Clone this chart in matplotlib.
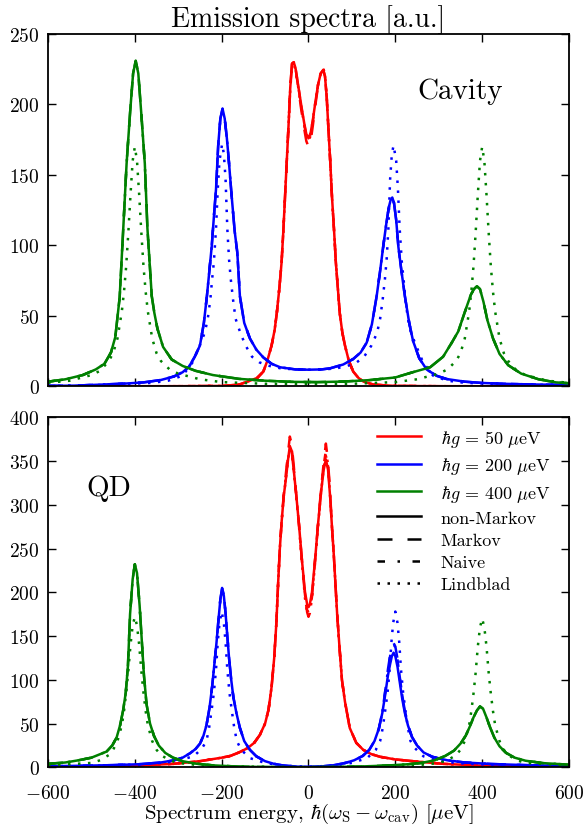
import matplotlib
matplotlib.use("Agg")
import matplotlib.pyplot as plt
from matplotlib.lines import Line2D

# ---------------------------------------------------------------- data
# Cavity spectra (top panel)
cav_g50_x = [-600, -300, -200, -160, -135, -118, -104, -95, -85, -78, -73, -67, -62, -58, -54, -50, -46, -42,
             -38, -34, -30, -24, -17, -10, -5, 0, 5, 10, 16, 22, 28, 34, 38, 42, 46, 50, 54, 59, 63, 68, 72,
             78, 84, 93, 103, 115, 126, 150, 200, 300, 600]
cav_g50_nonmarkov = [0, 0.1, 0.3, 1.2, 4, 6, 10.5, 18, 29, 40, 52, 70, 88, 110, 135, 160, 185, 212,
                     229, 230, 226, 214, 200, 187, 179, 176, 180, 189, 202, 214, 222, 224.5, 220, 205, 182, 160,
                     135, 110, 88, 68, 52, 38, 29, 18, 10.5, 6, 3.5, 1.2, 0.3, 0.1, 0]
cav_g50_markov = [0, 0.1, 0.3, 1.2, 4, 6, 10.5, 18, 29, 40, 52, 70, 88, 110, 135, 160, 185, 212,
                  229, 230, 226, 213, 197, 183, 174, 170, 174, 185, 200, 213, 222, 224.5, 220, 205, 182, 160,
                  135, 110, 88, 68, 52, 38, 29, 18, 10.5, 6, 3.5, 1.2, 0.3, 0.1, 0]
cav_g50_naive = [0, 0.1, 0.3, 1.2, 4, 6, 10.5, 18, 29, 40, 52, 70, 88, 110, 135, 160, 185, 212,
                 229, 230, 226, 214, 199, 186, 178, 174, 178, 188, 201, 214, 222, 224.5, 220, 205, 182, 160,
                 135, 110, 88, 68, 52, 38, 29, 18, 10.5, 6, 3.5, 1.2, 0.3, 0.1, 0]
cav_g50_lindblad = [0, 0.1, 0.3, 1.2, 4, 6, 10.5, 18, 29, 40, 52, 70, 88, 110, 135, 160, 185, 211,
                    227, 228, 225, 213, 199, 186, 178, 175, 179, 189, 202, 214, 222, 226, 221, 205, 182, 160,
                    135, 110, 88, 68, 52, 38, 29, 18, 10.5, 6, 3.5, 1.2, 0.3, 0.1, 0]

cav_g200_x = [-600, -540, -480, -420, -380, -340, -310, -290, -275, -262, -250, -241, -234, -228, -223, -218,
              -213, -208, -203, -198, -193, -188, -184, -177, -170, -164, -158, -148, -135, -120, -104, -85,
              -65, -30, 0, 30, 50, 80, 103, 120, 134, 146, 157, 165, 172, 179, 185, 189, 193, 197, 202, 207,
              214, 222, 232, 241, 255, 272, 295, 318, 360, 400, 450, 520, 600]
cav_g200_nonmarkov = [0.3, 0.5, 1.2, 2, 2.8, 4.5, 7, 10, 14, 21, 29, 45, 64, 83, 99, 120, 140, 171, 190, 197,
                      190, 176, 162, 135, 110, 95, 64, 45, 34, 26, 20.5, 16, 13.5, 12, 11.8, 12, 12.8, 15.5,
                      19.4, 24, 31, 44, 64, 82, 99, 115, 127, 132, 134, 130, 118, 99, 82, 64, 45, 32, 20, 12,
                      7.5, 5.2, 3.3, 2.4, 1.8, 1.3, 1]
cav_g200_lind_x = [-600, -500, -420, -360, -323, -290, -267, -252, -239, -232, -226, -222, -218, -213, -209,
                   -205, -199, -195, -191, -187, -183, -179, -174, -168, -157, -145, -130, -113, -90, -60, 0,
                   60, 90, 111, 128, 145, 158, 165, 171, 176, 180, 184, 188, 192, 196, 202, 206, 210, 215, 219,
                   223, 229, 236, 249, 264, 287, 320, 360, 420, 500, 600]
cav_g200_lindblad = [0.3, 0.8, 1.6, 2.5, 4, 7.6, 17, 28, 38, 48, 62, 76, 88, 112, 140, 160, 172, 165, 147,
                     112, 90, 76, 62, 48, 38, 29, 21, 17, 14.5, 12.5, 11.8, 12.5, 14.5, 17, 21, 29, 38, 48, 62,
                     76, 90, 112, 147, 165, 171, 160, 140, 112, 88, 76, 62, 48, 38, 28, 17, 7.6, 4, 2.5, 1.8,
                     1.2, 0.8]

cav_g400_x = [-600, -560, -520, -490, -470, -455, -445, -435, -427, -419, -411, -404, -398, -392, -385, -377,
              -371, -361, -355, -348, -335, -315, -290, -260, -220, -160, -100, -40, 20, 80, 140, 200, 240,
              280, 310, 330, 345, 357, 366, 374, 381, 388, 395, 403, 412, 425, 440, 460, 490, 530, 570, 600]
cav_g400_nonmarkov = [3.3, 5, 8, 12, 16, 24, 35, 63, 110, 158, 194, 222, 231, 222, 193, 158, 112, 64, 52, 41,
                      28, 19, 14.5, 11, 8, 5.3, 4, 3.2, 3, 3.4, 4.4, 6.3, 10, 13.5, 21, 31, 39, 50, 58, 65,
                      69, 71, 69, 60, 47, 34, 23, 15, 9, 5, 2.8, 2.2]
cav_g400_lind_x = [-600, -550, -500, -480, -460, -450, -440, -430, -425, -420, -415, -410, -405, -400, -395,
                   -390, -385, -380, -375, -370, -360, -350, -340, -320, -300, -250, -200, -100, 0, 100, 200,
                   250, 300, 320, 340, 350, 360, 370, 375, 380, 385, 390, 395, 400, 405, 410, 415, 420, 425,
                   430, 440, 450, 460, 480, 500, 550, 600]
cav_g400_lindblad = [2.5, 4, 8, 11, 18, 23.5, 34, 53, 67, 85, 109, 136, 160, 170, 160, 136, 109, 85, 67, 53,
                     34, 23.5, 18, 12, 9, 5, 3, 1.8, 1.5, 1.8, 3, 5, 9, 12, 18, 23.5, 34, 53, 67, 85, 109,
                     136, 160, 170, 160, 136, 109, 85, 67, 53, 34, 23.5, 18, 11, 8, 4, 2.5]

# QD spectra (bottom panel)
qd_g50_x = [-600, -500, -400, -310, -250, -200, -180, -160, -140, -125, -112, -100, -92, -85, -79, -74, -70,
            -66, -62, -57, -52, -47, -43, -39, -34, -28, -22, -15, -8, -3, 0, 3, 8, 15, 22, 29, 35, 40, 45,
            50, 54, 58, 62, 66, 71, 77, 84, 95, 110, 126, 145, 165, 200, 250, 310, 400, 500, 600]
qd_g50_nonmarkov = [0.5, 1, 1.8, 4, 7, 11, 13, 17, 22, 28, 37, 50, 66, 92, 125, 165, 210, 250, 280, 310, 330,
                    352, 367, 362, 340, 310, 278, 236, 200, 186, 183, 186, 200, 236, 278, 315, 340, 352, 340,
                    308, 275, 245, 210, 175, 140, 100, 75, 45, 28, 20, 15, 12, 9, 6.5, 4, 1.8, 1, 0.5]
qd_g50_markov = [0.5, 1, 1.8, 4, 7, 11, 13, 17, 22, 28, 37, 50, 66, 92, 125, 165, 210, 250, 280, 312, 336,
                 360, 378, 370, 345, 310, 278, 236, 195, 177, 172, 177, 195, 236, 278, 318, 348, 370, 350,
                 312, 275, 245, 210, 175, 140, 100, 75, 45, 28, 20, 15, 12, 9, 6.5, 4, 1.8, 1, 0.5]
qd_g50_naive = [0.5, 1, 1.8, 4, 7, 11, 13, 17, 22, 28, 37, 50, 66, 92, 125, 165, 210, 250, 280, 311, 333,
                356, 372, 366, 342, 310, 278, 236, 197, 180, 177, 180, 197, 236, 278, 316, 345, 362, 346,
                310, 275, 245, 210, 175, 140, 100, 75, 45, 28, 20, 15, 12, 9, 6.5, 4, 1.8, 1, 0.5]
qd_g50_lindblad = [0.5, 1, 1.8, 4, 7, 11, 13, 17, 22, 28, 37, 50, 66, 92, 125, 165, 210, 250, 280, 310, 330,
                   352, 365, 360, 338, 308, 276, 233, 193, 176, 173, 176, 193, 233, 276, 315, 342, 356, 344,
                   308, 275, 245, 210, 175, 140, 100, 75, 45, 28, 20, 15, 12, 9, 6.5, 4, 1.8, 1, 0.5]

qd_g200_x = [-600, -520, -450, -390, -340, -310, -290, -273, -260, -250, -242, -235, -228, -222, -217, -212,
             -208, -203, -199, -195, -191, -187, -183, -178, -173, -166, -158, -148, -135, -120, -100, -80,
             -60, -30, 0, 30, 60, 85, 105, 125, 140, 152, 162, 170, 177, 183, 188, 192, 196, 200, 205, 210,
             216, 222, 229, 238, 250, 265, 285, 320, 360, 420, 500, 600]
qd_g200_nonmarkov = [1.2, 1.8, 2.5, 3.5, 5.5, 8, 11, 16, 21, 27, 36, 48, 68, 92, 117, 142, 165, 192, 204, 196,
                     176, 150, 125, 100, 80, 62, 45, 30, 20, 12.5, 7, 4, 2.2, 0.8, 0.4, 1, 2.5, 5, 8, 13, 20,
                     30, 44, 62, 84, 105, 118, 127, 131, 127, 115, 98, 78, 62, 48, 35, 25, 17, 12, 8, 5.5,
                     3.8, 2.5, 1.5]
qd_g200_markov = [1.2, 1.8, 2.5, 3.5, 5.5, 8, 11, 16, 21, 27, 36, 48, 68, 92, 117, 142, 165, 192, 205, 197,
                  176, 150, 125, 100, 80, 62, 45, 30, 20, 12.5, 7, 4, 2.2, 0.8, 0.4, 1, 2.5, 5, 8, 13, 20, 30,
                  44, 63, 88, 112, 128, 138, 142, 138, 124, 104, 82, 64, 49, 35, 25, 17, 12, 8, 5.5, 3.8,
                  2.5, 1.5]
qd_g200_naive = [1.2, 1.8, 2.5, 3.5, 5.5, 8, 11, 16, 21, 27, 36, 48, 68, 92, 117, 142, 165, 192, 205, 197,
                 176, 150, 125, 100, 80, 62, 45, 30, 20, 12.5, 7, 4, 2.2, 0.8, 0.4, 1, 2.5, 5, 8, 13, 20, 30,
                 44, 63, 88, 111, 127, 137, 141, 137, 123, 103, 82, 64, 49, 35, 25, 17, 12, 8, 5.5, 3.8,
                 2.5, 1.5]
qd_g200_lind_x = [-600, -500, -420, -360, -320, -300, -280, -265, -255, -245, -235, -229, -223, -218, -213,
                  -209, -205, -200, -195, -191, -187, -182, -177, -171, -165, -155, -135, -100, -60, 0, 60,
                  100, 135, 155, 165, 171, 177, 182, 187, 191, 195, 200, 205, 209, 213, 218, 223, 229, 235,
                  245, 255, 265, 280, 300, 320, 360, 420, 500, 600]
qd_g200_lindblad = [1, 1.8, 2.8, 4.2, 6, 8, 10.5, 12.5, 17, 22, 30, 45, 66, 85, 112, 143, 165, 178, 165, 143,
                    112, 85, 66, 45, 30, 20, 10.5, 5, 2, 0.5, 2, 5, 10.5, 20, 30, 45, 66, 85, 112, 143, 165,
                    178, 165, 143, 112, 85, 66, 45, 30, 22, 17, 12.5, 10.5, 8, 6, 4.2, 2.8, 1.8, 1]

qd_g400_x = [-600, -560, -530, -500, -480, -465, -452, -442, -434, -427, -421, -416, -411, -405, -400, -395,
             -389, -384, -379, -373, -365, -356, -345, -330, -312, -290, -260, -220, -160, -100, -40, 0, 60,
             120, 180, 230, 260, 290, 315, 335, 350, 362, 372, 380, 388, 395, 402, 410, 418, 428, 440, 455,
             475, 500, 540, 600]
qd_g400_nonmarkov = [4, 5.5, 8, 11, 15, 18, 25, 34, 48, 65, 85, 115, 175, 215, 232, 222, 185, 145, 105, 72,
                     50, 36, 25, 16.5, 11, 7, 4.2, 2.2, 0.8, 0.3, 0.1, 0.1, 0.3, 0.9, 2, 3.5, 5, 8, 13, 19,
                     27, 36, 47, 57, 65, 69.5, 67, 57, 46, 34, 24, 16.5, 11, 7.5, 4.8, 3]
qd_g400_lind_x = [-600, -550, -500, -480, -460, -450, -440, -430, -425, -420, -415, -410, -405, -400, -395,
                  -390, -385, -380, -375, -370, -360, -350, -340, -320, -300, -250, -200, -100, 0, 100, 200,
                  250, 300, 320, 340, 350, 360, 370, 375, 380, 385, 390, 395, 400, 405, 410, 415, 420, 425,
                  430, 440, 450, 460, 480, 500, 550, 600]
qd_g400_lindblad = [2.5, 3.5, 5, 8, 14, 20, 30, 48, 64, 85, 110, 140, 162, 172, 162, 140, 110, 85, 64, 48, 30,
                    20, 14, 8, 5, 2.3, 1.3, 0.5, 0.3, 0.5, 1.3, 2.3, 5, 8, 14, 20, 30, 48, 64, 84, 108, 138,
                    160, 170, 160, 138, 108, 84, 64, 48, 30, 20, 14, 8, 5, 3.5, 2.5]

# Markov and naive curves sit on top of the non-Markov ones here
cav_g200_markov = cav_g200_naive = cav_g200_nonmarkov
cav_g400_markov = cav_g400_naive = cav_g400_nonmarkov
qd_g400_markov = qd_g400_naive = qd_g400_nonmarkov

coupling_labels = [r"$\hbar g\, =\, 50\ \mu$eV", r"$\hbar g\, =\, 200\ \mu$eV", r"$\hbar g\, =\, 400\ \mu$eV"]
model_labels = ["non-Markov", "Markov", "Naive", "Lindblad"]
colors = ["#ff0000", "#0000ff", "#008000"]

# ---------------------------------------------------------------- style
plt.rcParams.update({
    "font.family": "serif",
    "font.serif": ["cmr10"],
    "mathtext.fontset": "cm",
    "axes.formatter.use_mathtext": True,
    "axes.unicode_minus": True,
    "lines.dashed_pattern": [6, 6],
    "lines.dashdot_pattern": [3, 5, 1, 5],
    "lines.dotted_pattern": [1, 3],
    "lines.scale_dashes": True,
})

LW = 1.8


def draw_group(ax, color, x, nm, mk, nv, lx, lb):
    ax.plot(x, nm, color=color, ls="-", lw=LW)
    ax.plot(x, mk, color=color, ls="--", lw=LW)
    ax.plot(x, nv, color=color, ls="-.", lw=LW)
    ax.plot(lx, lb, color=color, ls=":", lw=LW)


def style_axes(ax, ymax):
    ax.set_xlim(-600, 600)
    ax.set_ylim(0, ymax)
    ax.set_xticks(range(-600, 601, 200))
    ax.set_yticks(range(0, ymax + 1, 50))
    ax.tick_params(direction="in", top=True, right=True, length=5.5, width=1.0, labelsize=14)
    ax.tick_params(axis="y", pad=6)
    ax.tick_params(axis="x", pad=12)
    for sp in ax.spines.values():
        sp.set_linewidth(1.3)


fig = plt.figure(figsize=(5.84, 8.28), dpi=100)
ax_top = fig.add_axes([0.0822, 0.5322, 0.8921, 0.4255])
ax_bot = fig.add_axes([0.0822, 0.0721, 0.8921, 0.4227])

draw_group(ax_top, colors[0], cav_g50_x, cav_g50_nonmarkov, cav_g50_markov, cav_g50_naive,
           cav_g50_x, cav_g50_lindblad)
draw_group(ax_top, colors[1], cav_g200_x, cav_g200_nonmarkov, cav_g200_markov, cav_g200_naive,
           cav_g200_lind_x, cav_g200_lindblad)
draw_group(ax_top, colors[2], cav_g400_x, cav_g400_nonmarkov, cav_g400_markov, cav_g400_naive,
           cav_g400_lind_x, cav_g400_lindblad)

draw_group(ax_bot, colors[0], qd_g50_x, qd_g50_nonmarkov, qd_g50_markov, qd_g50_naive,
           qd_g50_x, qd_g50_lindblad)
draw_group(ax_bot, colors[1], qd_g200_x, qd_g200_nonmarkov, qd_g200_markov, qd_g200_naive,
           qd_g200_lind_x, qd_g200_lindblad)
draw_group(ax_bot, colors[2], qd_g400_x, qd_g400_nonmarkov, qd_g400_markov, qd_g400_naive,
           qd_g400_lind_x, qd_g400_lindblad)

style_axes(ax_top, 250)
style_axes(ax_bot, 400)
ax_top.set_xticklabels([])

ax_top.set_title("Emission spectra [a.u.]", fontsize=20, pad=6)
ax_bot.set_xlabel(r"Spectrum energy, $\hbar(\omega_{\mathrm{S}}-\omega_{\mathrm{cav}})$ [$\mu$eV]",
                  fontsize=15, labelpad=-1)

ax_top.text(350, 210, "Cavity", fontsize=21, ha="center", va="center")
ax_bot.text(-459, 320, "QD", fontsize=21, ha="center", va="center")

handles = [Line2D([], [], color=c, ls="-", lw=LW) for c in colors]
handles += [Line2D([], [], color="k", ls=s, lw=LW) for s in ["-", "--", "-.", ":"]]
ax_bot.legend(handles, coupling_labels + model_labels, loc="upper right", frameon=False,
              fontsize=13, handlelength=2.4, handletextpad=1.1, labelspacing=0.36,
              borderpad=0.2, borderaxespad=0.0, bbox_to_anchor=(0.971, 0.981))

fig.savefig("out.png", dpi=100, facecolor="white")
